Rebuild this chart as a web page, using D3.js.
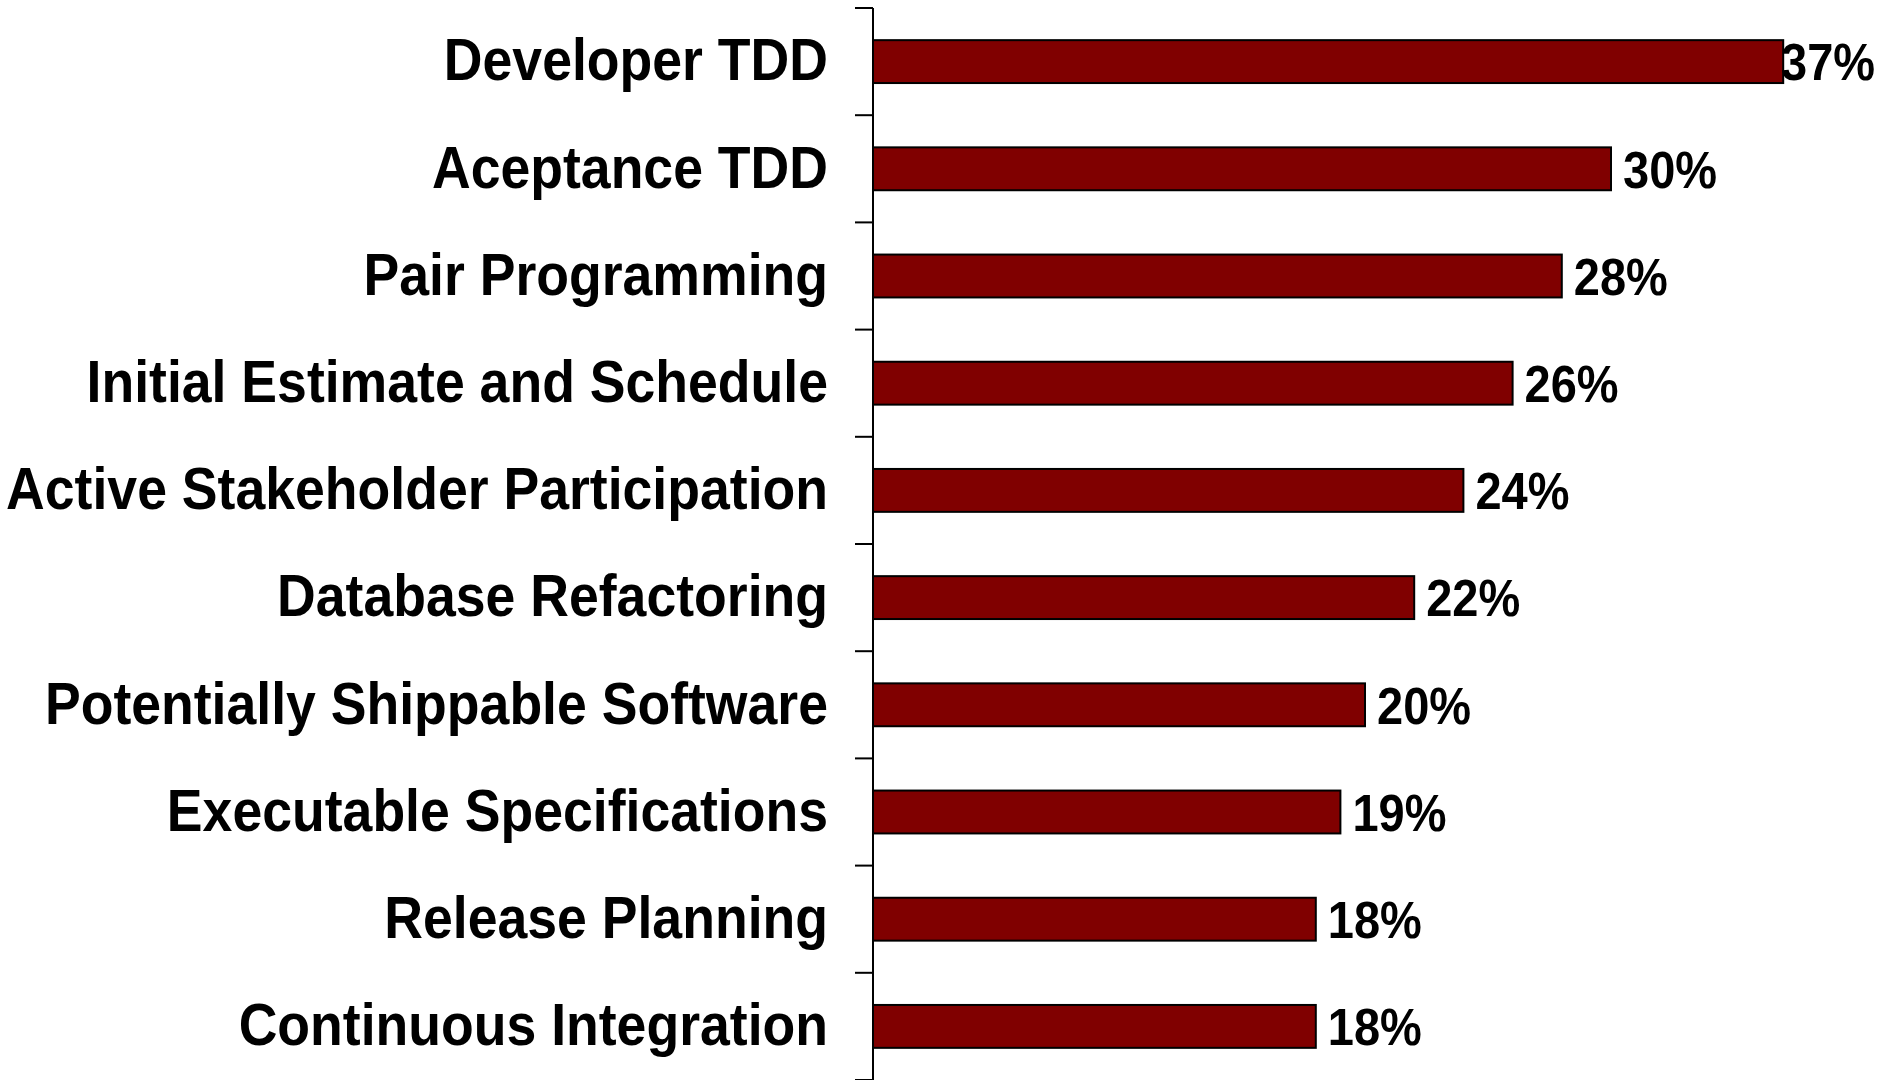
<!DOCTYPE html>
<html>
<head>
<meta charset="utf-8">
<script src="https://cdn.jsdelivr.net/npm/d3@7"></script>
<style>
    html, body { margin: 0; padding: 0; background: #fff; }
    svg { display: block; }
    text { font-family: "Liberation Sans", Arial, sans-serif; font-weight: bold; fill: #000; }
</style>
</head>
<body>
<div id="chart"></div>
<script>
// 数据
let categories = ['Developer TDD', 'Aceptance TDD', 'Pair Programming', 'Initial Estimate and Schedule',
    'Active Stakeholder Participation', 'Database Refactoring', 'Potentially Shippable Software',
    'Executable Specifications', 'Release Planning', 'Continuous Integration'];
let values = [37, 30, 28, 26, 24, 22, 20, 19, 18, 18];
let xDomain = [0, 40];

let width = 1881, height = 1080;
let axisX = 873;
let svg = d3.select('#chart').append('svg')
    .attr('width', width)
    .attr('height', height);

//比例尺
let xScale = d3.scaleLinear().domain(xDomain).range([axisX, axisX + 984]);
let yScale = d3.scaleBand().domain(categories).range([8, 8 + 107.2 * categories.length])
    .paddingInner(0.6).paddingOuter(0.3);
let step = yScale.step();
let stretch = 1.1;

//画柱子
svg.append('g').selectAll('rect')
    .data(values)
    .enter()
    .append('rect')
    .attr('x', xScale(0))
    .attr('y', (d, i) => yScale(categories[i]))
    .attr('width', d => xScale(d) - xScale(0))
    .attr('height', yScale.bandwidth())
    .attr('fill', '#800000')
    .attr('stroke', '#000')
    .attr('stroke-width', 2);

//纵轴
let yAxis = d3.axisLeft(yScale).tickSize(0).tickFormat('');
let axisG = svg.append('g').attr('transform', 'translate(' + axisX + ',0)').call(yAxis);
axisG.select('.domain').remove();
axisG.append('line')
    .attr('x1', 0).attr('x2', 0)
    .attr('y1', 8).attr('y2', height)
    .attr('stroke', '#000').attr('stroke-width', 2);
// 分隔刻度
axisG.selectAll('line.sep')
    .data(d3.range(categories.length + 1))
    .enter()
    .append('line')
    .attr('class', 'sep')
    .attr('x1', -18).attr('x2', 0)
    .attr('y1', i => 8 + i * step)
    .attr('y2', i => 8 + i * step)
    .attr('stroke', '#000').attr('stroke-width', 2);

//类别标签
svg.append('g').selectAll('text')
    .data(categories)
    .enter()
    .append('text')
    .attr('transform', d => 'translate(828,' + (yScale(d) + yScale.bandwidth() / 2) + ') scale(1,' + stretch + ')')
    .attr('y', 17)
    .attr('text-anchor', 'end')
    .style('font-size', '53.6px')
    .text(d => d);

//数值标签
svg.append('g').selectAll('text')
    .data(values)
    .enter()
    .append('text')
    .attr('transform', (d, i) => {
        let x = Math.min(xScale(d) + 12, 1875 - 94);
        return 'translate(' + x + ',' + (yScale(categories[i]) + yScale.bandwidth() / 2) + ') scale(1,' + stretch + ')';
    })
    .attr('y', 17)
    .style('font-size', '47px')
    .text(d => d + '%');
</script>
</body>
</html>
